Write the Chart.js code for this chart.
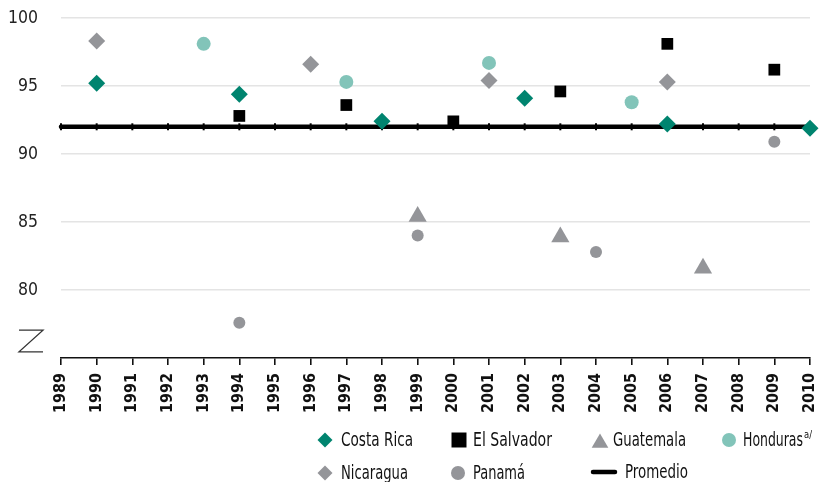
<!DOCTYPE html>
<html>
<head>
<meta charset="utf-8">
<script src="https://cdn.jsdelivr.net/npm/chart.js@4/dist/chart.umd.min.js"></script>
<style>
  html, body { margin: 0; padding: 0; background: #ffffff; }
  #wrap { position: relative; width: 822px; height: 482px; }
  canvas { display: block; }
</style>
</head>
<body>
<div id="wrap"><canvas id="c" width="822" height="482"></canvas></div>
<script>
// ---- Data ----
const years = [1989, 1990, 1991, 1992, 1993, 1994, 1995, 1996, 1997, 1998, 1999,
               2000, 2001, 2002, 2003, 2004, 2005, 2006, 2007, 2008, 2009, 2010];
const yTickValues = [80, 85, 90, 95, 100];

const costaRicaYears = [1990, 1994, 1998, 2002, 2006, 2010];
const costaRicaValues = [95.2, 94.4, 92.4, 94.1, 92.2, 91.9];

const elSalvadorYears = [1994, 1997, 2000, 2003, 2006, 2009];
const elSalvadorValues = [92.8, 93.6, 92.4, 94.6, 98.1, 96.2];

const guatemalaYears = [1999, 2003, 2007];
const guatemalaValues = [85.4, 83.9, 81.6];

const hondurasYears = [1993, 1997, 2001, 2005];
const hondurasValues = [98.1, 95.3, 96.7, 93.8];

const nicaraguaYears = [1990, 1996, 2001, 2006];
const nicaraguaValues = [98.3, 96.6, 95.4, 95.3];

const panamaYears = [1994, 1999, 2004, 2009];
const panamaValues = [77.6, 84.0, 82.8, 90.9];

const promedioValues = [92.0, 92.0, 92.0, 92.0, 92.0, 92.0, 92.0, 92.0, 92.0, 92.0, 92.0,
                        92.0, 92.0, 92.0, 92.0, 92.0, 92.0, 92.0, 92.0, 92.0, 92.0, 92.0];

const seriesNames = ['Costa Rica', 'El Salvador', 'Guatemala', 'Honduras', 'Nicaragua', 'Panamá', 'Promedio'];

// ---- Styles ----
const TEAL = '#00846f';
const LTEAL = '#82c4b9';
const GRAY = '#949599';
const BLACK = '#000000';
const FONT = "'DejaVu Sans Condensed', 'Liberation Sans Narrow', sans-serif";

function pts(xs, ys) { return xs.map((x, i) => ({ x: x, y: ys[i] })); }

const scatterBase = { showLine: false, borderWidth: 0, order: 0, clip: false };

const datasets = [
  Object.assign({}, scatterBase, { label: seriesNames[0], data: pts(costaRicaYears, costaRicaValues),
    pointStyle: 'rectRot', pointRadius: 8.5, backgroundColor: TEAL, borderColor: TEAL, pointBorderWidth: 0 }),
  Object.assign({}, scatterBase, { label: seriesNames[1], data: pts(elSalvadorYears, elSalvadorValues),
    pointStyle: 'rect', pointRadius: 8.3, backgroundColor: BLACK, borderColor: BLACK, pointBorderWidth: 0 }),
  Object.assign({}, scatterBase, { label: seriesNames[2], data: pts(guatemalaYears, guatemalaValues),
    pointStyle: 'triangle', pointRadius: 10.5, backgroundColor: GRAY, borderColor: GRAY, pointBorderWidth: 0 }),
  Object.assign({}, scatterBase, { label: seriesNames[3], data: pts(hondurasYears, hondurasValues),
    pointStyle: 'circle', pointRadius: 7, backgroundColor: LTEAL, borderColor: LTEAL, pointBorderWidth: 0 }),
  Object.assign({}, scatterBase, { label: seriesNames[4], data: pts(nicaraguaYears, nicaraguaValues),
    pointStyle: 'rectRot', pointRadius: 8.5, backgroundColor: GRAY, borderColor: GRAY, pointBorderWidth: 0 }),
  Object.assign({}, scatterBase, { label: seriesNames[5], data: pts(panamaYears, panamaValues),
    pointStyle: 'circle', pointRadius: 6, backgroundColor: GRAY, borderColor: GRAY, pointBorderWidth: 0 }),
  { label: seriesNames[6], data: pts(years, promedioValues), showLine: true, order: 5, clip: false,
    borderColor: BLACK, backgroundColor: BLACK, borderWidth: 4.5, borderCapStyle: 'round',
    pointStyle: 'line', pointRotation: 90, pointRadius: 3.5, pointBorderWidth: 2, pointBorderColor: BLACK }
];

// Axis break symbol + custom legend
const extras = {
  id: 'extras',
  afterDraw(chart) {
    const ctx = chart.ctx;
    const ys = chart.scales.y;
    const left = chart.chartArea.left;
    // break "Z"
    const yTop = ys.getPixelForValue(77.05);
    const yBot = ys.getPixelForValue(75.45);
    ctx.save();
    ctx.strokeStyle = '#333';
    ctx.lineWidth = 1.3;
    ctx.beginPath();
    ctx.moveTo(left - 42, yTop);
    ctx.lineTo(left - 18, yTop);
    ctx.lineTo(left - 42, yBot);
    ctx.lineTo(left - 18, yBot);
    ctx.stroke();
    ctx.restore();

    // legend
    const items = [
      { name: seriesNames[0], style: 'rectRot', r: 7.5, color: TEAL, mx: 325, tx: 341, y: 440, w: 72 },
      { name: seriesNames[1], style: 'rect', r: 10.6, color: BLACK, mx: 459, tx: 473, y: 440, w: 79 },
      { name: seriesNames[2], style: 'triangle', r: 9.6, color: GRAY, mx: 600, tx: 613, y: 443, ty: 440, w: 73 },
      { name: seriesNames[3], style: 'circle', r: 7, color: LTEAL, mx: 729, tx: 743, y: 440, w: 60, sup: 'a/' },
      { name: seriesNames[4], style: 'rectRot', r: 7.5, color: GRAY, mx: 325, tx: 341, y: 473, w: 67 },
      { name: seriesNames[5], style: 'circle', r: 7, color: GRAY, mx: 458, tx: 473, y: 473, w: 52 },
      { name: seriesNames[6], style: 'lineSeg', color: BLACK, mx: 604, tx: 625, y: 472, w: 63 }
    ];
    ctx.save();
    ctx.textBaseline = 'middle';
    ctx.textAlign = 'left';
    items.forEach(it => {
      ctx.fillStyle = it.color;
      ctx.strokeStyle = it.color;
      if (it.style === 'lineSeg') {
        ctx.lineWidth = 4.5;
        ctx.lineCap = 'round';
        ctx.beginPath();
        ctx.moveTo(it.mx - 11, it.y);
        ctx.lineTo(it.mx + 11, it.y);
        ctx.stroke();
      } else {
        Chart.helpers.drawPoint(ctx, { pointStyle: it.style, radius: it.r, rotation: 0, borderWidth: 0 }, it.mx, it.y);
      }
      ctx.fillStyle = '#111';
      ctx.font = '19px ' + FONT;
      const mw = ctx.measureText(it.name).width;
      const sx = it.w / mw;
      const ty = it.ty || it.y;
      ctx.save();
      ctx.translate(it.tx, ty + 1);
      ctx.scale(sx, 1);
      ctx.fillText(it.name, 0, 0);
      ctx.restore();
      if (it.sup) {
        ctx.font = '11px ' + FONT;
        ctx.save();
        ctx.translate(it.tx + it.w + 1, ty - 5);
        ctx.scale(0.85, 1);
        ctx.fillText(it.sup, 0, 0);
        ctx.restore();
      }
    });
    ctx.restore();
  }
};

new Chart(document.getElementById('c'), {
  type: 'line',
  data: { datasets: datasets },
  options: {
    responsive: false,
    animation: false,
    events: [],
    layout: { padding: { top: 18, right: 12, bottom: 0, left: 0 } },
    plugins: { legend: { display: false }, tooltip: { enabled: false } },
    scales: {
      x: {
        type: 'linear',
        min: years[0],
        max: years[years.length - 1],
        afterBuildTicks(scale) { scale.ticks = years.map(v => ({ value: v })); },
        afterFit(scale) { scale.height = 124; },
        border: { display: true, color: '#111', width: 1.6 },
        grid: { drawOnChartArea: false, drawTicks: true, tickLength: 7, color: '#111', lineWidth: 1.6 },
        ticks: {
          autoSkip: false, minRotation: 90, maxRotation: 90, padding: 8,
          color: '#111', font: { family: FONT, size: 16, weight: 'bold', lineHeight: 0.2 },
          callback: v => String(v)
        }
      },
      y: {
        min: 75,
        max: 100,
        afterBuildTicks(scale) { scale.ticks = [75].concat(yTickValues).map(v => ({ value: v })); },
        afterFit(scale) { scale.width = 61; },
        border: { display: false },
        grid: {
          drawTicks: true,
          tickLength: 23,
          tickColor: 'rgba(0,0,0,0)',
          color: c => (c.tick && c.tick.value === 75) ? 'rgba(0,0,0,0)' : '#e4e4e4',
          lineWidth: 1.6
        },
        ticks: {
          padding: 0, color: '#222', font: { family: FONT, size: 17.5 },
          callback: v => (yTickValues.indexOf(v) >= 0 ? String(v) : '')
        }
      }
    }
  },
  plugins: [extras]
});
</script>
</body>
</html>
